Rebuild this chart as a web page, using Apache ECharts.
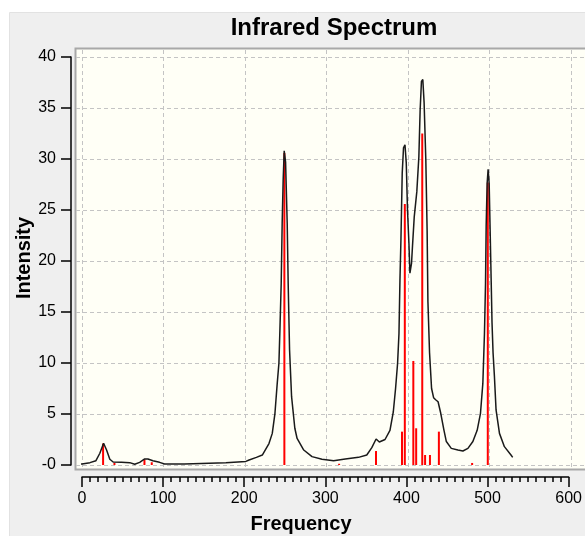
<!DOCTYPE html>
<html>
<head>
<meta charset="utf-8">
<script src="https://cdn.jsdelivr.net/npm/echarts@6/dist/echarts.min.js"></script>
<style>
html,body{margin:0;padding:0;background:#ffffff;}
#chart{width:585px;height:536px;}
</style>
</head>
<body>
<div id="chart"></div>
<script>
// Stick spectrum (red)
const stickFreq = [26, 40, 77, 86, 249.5, 317, 362.5, 394.5, 398, 408.5, 412, 419.5, 423, 429, 440, 481, 500.3];
const stickInt  = [2.1, 0.2, 0.55, 0.27, 30.6, 0.12, 1.37, 3.27, 25.6, 10.2, 3.6, 32.5, 0.98, 0.98, 3.27, 0.2, 27.7];

// Broadened curve (black)
const curveFreq = [-5.8, 0, 9.8, 17.2, 22, 26.6, 30.3, 34.3, 38.4, 48.7, 58.9, 65, 71.1, 77.3, 81.3, 87.4, 95.6, 101.8,
  126.3, 127.5, 177.4, 178.6, 202, 206, 215, 222.3, 230.5, 234.6, 237.9, 240.7, 242.8, 244, 245.6, 246.8, 248, 249.3,
  251, 253, 254.2, 255.9, 258.4, 262.4, 265.2, 267.3, 273.4, 283.6, 295.9, 310.2, 324.6, 340.9, 351.1, 357.3, 362.6,
  366.6, 373.6, 379.7, 383.8, 386.6, 389.1, 390.8, 392, 393.2, 394.8, 396.4, 398.2, 399.8, 401.3, 403.1, 404.3, 406.3,
  407.5, 409.6, 412.8, 415.3, 416.9, 418.5, 420.2, 421.8, 423.9, 425.5, 426.5, 428.5, 431, 433.5, 436, 439, 442.3,
  446.3, 449.2, 455.3, 463.5, 469.6, 475.8, 481.9, 487.2, 491.3, 494.2, 496.2, 497.5, 498.3, 499.5, 500.7, 502, 503.2,
  504.5, 505.5, 506.8, 508.5, 510.5, 514.7, 520.8, 528.9, 531];
const curveInt = [0.07, 0.1, 0.23, 0.42, 1.15, 2.13, 1.47, 0.56, 0.29, 0.26, 0.23, 0.07, 0.26, 0.59, 0.59, 0.42, 0.26, 0.1,
  0.1, 0.23, 0.23, 0.33, 0.35, 0.49, 0.75, 0.98, 2.1, 3.1, 5.07, 8.0, 10, 13.2, 17.8, 23.7, 27.9, 30.8,
  29.7, 23.7, 17.8, 11.3, 6.7, 3.6, 2.6, 2.45, 1.47, 0.82, 0.56, 0.42, 0.59, 0.75, 0.98, 1.7, 2.55,
  2.25, 2.5, 3.4, 5.2, 7.5, 9.97, 12.9, 18.1, 22, 28.6, 31.1, 31.4, 29.6, 25, 21.7, 18.8, 19.8,
  21.5, 24.3, 26.8, 30.2, 34.8, 37.6, 37.8, 35.5, 29.9, 23, 16, 11, 7.5, 6.6, 6.4, 6.2, 5.07,
  3.4, 2.3, 1.63, 1.47, 1.37, 1.63, 2.3, 3.4, 5.07, 8.0, 12.9, 17.8, 23.4, 27.6, 29.0, 27.6, 23,
  18, 14, 11, 8.66, 5.4, 3.1, 1.8, 0.98, 0.75];

const xTicks = [0, 100, 200, 300, 400, 500, 600];
const yTicks = [0, 5, 10, 15, 20, 25, 30, 35, 40];

const FONT = '"Liberation Sans", Arial, sans-serif';
const chart = echarts.init(document.getElementById('chart'), null, {renderer: 'canvas'});

const dashed = {show: true, lineStyle: {color: '#c4c4c4', type: [4, 3], width: 1}};
const hidden = {show: false};

const option = {
  animation: false,
  backgroundColor: '#ffffff',
  graphic: [
    {type: 'rect', z: -100, shape: {x: 9.5, y: 12.5, width: 620, height: 600},
     style: {fill: '#efefef', stroke: '#e2e2e2', lineWidth: 1}},
    {type: 'rect', z: -90, shape: {x: 75.5, y: 48.5, width: 560, height: 421},
     style: {fill: '#fffff6', stroke: '#a8a8a8', lineWidth: 2}},
    {type: 'text', z: 10, x: 334, y: 28, style: {text: 'Infrared Spectrum', font: 'bold 24px ' + FONT,
      fill: '#000', textAlign: 'center', textVerticalAlign: 'middle'}},
    {type: 'text', z: 10, x: 301, y: 524, style: {text: 'Frequency', font: 'bold 20px ' + FONT,
      fill: '#000', textAlign: 'center', textVerticalAlign: 'middle'}},
    {type: 'text', z: 10, x: 24, y: 258, rotation: Math.PI / 2, style: {text: 'Intensity', font: 'bold 20px ' + FONT,
      fill: '#000', textAlign: 'center', textVerticalAlign: 'middle'}}
  ],
  grid: [
    {left: 82, right: 14, top: 57, bottom: 71},   // data + axes
    {left: 82, right: 14, top: 50, bottom: 67},   // vertical grid lines
    {left: 76, right: -40, top: 57, bottom: 71}   // horizontal grid lines
  ],
  xAxis: [
    {gridIndex: 0, type: 'value', position: 'bottom', min: xTicks[0], max: xTicks[xTicks.length - 1], interval: 100, offset: 12,
     axisLine: {show: true, onZero: false, lineStyle: {color: '#000', width: 1.5}},
     axisTick: {show: true, inside: false, length: 10, lineStyle: {color: '#000', width: 1.5}},
     minorTick: {show: true, splitNumber: 10, length: 5, lineStyle: {color: '#000', width: 1.5}},
     axisLabel: {show: true, margin: 14, color: '#000', fontFamily: FONT, fontSize: 16},
     splitLine: hidden},
    {gridIndex: 1, type: 'value', min: xTicks[0], max: xTicks[xTicks.length - 1], interval: 100,
     axisLine: hidden, axisTick: hidden, axisLabel: hidden, splitLine: dashed},
    {gridIndex: 2, type: 'value', min: 0, max: 100, axisLine: hidden, axisTick: hidden, axisLabel: hidden, splitLine: hidden}
  ],
  yAxis: [
    {gridIndex: 0, type: 'value', position: 'left', min: yTicks[0], max: yTicks[yTicks.length - 1], interval: 5, offset: 11,
     axisLine: {show: true, onZero: false, lineStyle: {color: '#000', width: 1.5}},
     axisTick: {show: true, inside: false, length: 10, lineStyle: {color: '#000', width: 1.5}},
     axisLabel: {show: true, margin: 15, color: '#000', fontFamily: FONT, fontSize: 16,
       formatter: v => (v === 0 ? '-0' : String(v))},
     splitLine: hidden},
    {gridIndex: 1, type: 'value', min: 0, max: 40, axisLine: hidden, axisTick: hidden, axisLabel: hidden, splitLine: hidden},
    {gridIndex: 2, type: 'value', min: yTicks[0], max: yTicks[yTicks.length - 1], interval: 5,
     axisLine: hidden, axisTick: hidden, axisLabel: hidden, splitLine: dashed}
  ],
  series: [
    {type: 'bar', xAxisIndex: 0, yAxisIndex: 0, barWidth: 2, z: 2,
     itemStyle: {color: '#ff0000'},
     data: stickFreq.map((f, i) => [f, stickInt[i]])},
    {type: 'line', xAxisIndex: 0, yAxisIndex: 0, showSymbol: false, symbol: 'none', clip: false, z: 3,
     lineStyle: {color: '#1a1a1a', width: 1.5},
     data: curveFreq.map((f, i) => [f, curveInt[i]])}
  ]
};
chart.setOption(option);
</script>
</body>
</html>
